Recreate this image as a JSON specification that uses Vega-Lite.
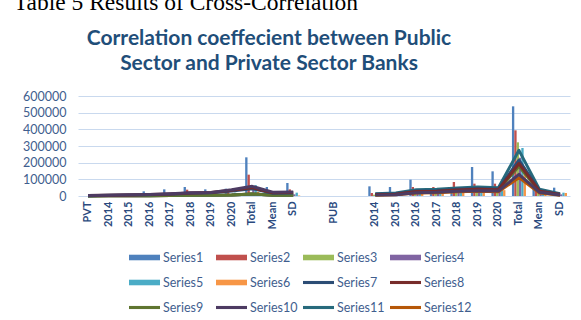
{
  "$schema": "https://vega.github.io/schema/vega-lite/v6.json",
  "width": 492,
  "height": 100,
  "autosize": {"type": "none"},
  "padding": {"left": 78, "top": 96, "right": 11, "bottom": 124},
  "background": "white",
  "config": {"view": {"stroke": null}, "font": "Lato"},
  "title": {
    "text": ["Correlation coeffecient between Public", "Sector and Private Sector Banks"],
    "font": "Lato", "fontSize": 21, "fontWeight": "bold", "color": "#1F4E79",
    "lineHeight": 25, "anchor": "middle", "frame": "group", "dx": -55, "dy": 104, "offset": 20
  },
  "data": {"values": [
    {"c": "PVT", "i": 0, "g": 1, "Series1": null, "Series2": null, "Series3": null, "Series4": null, "Series5": null, "Series6": null, "Series7": 2000, "Series8": 2500, "Series9": 500, "Series10": 3000, "Series11": 500, "Series12": 500},
    {"c": "2014", "i": 1, "g": 1, "Series1": 4000, "Series2": 3000, "Series3": 1000, "Series4": 1000, "Series5": 2000, "Series6": 1000, "Series7": 4000, "Series8": 4500, "Series9": 1000, "Series10": 5000, "Series11": 1000, "Series12": 1000},
    {"c": "2015", "i": 2, "g": 1, "Series1": 8000, "Series2": 5000, "Series3": 1500, "Series4": 1500, "Series5": 3000, "Series6": 2000, "Series7": 6000, "Series8": 6500, "Series9": 1500, "Series10": 7000, "Series11": 1500, "Series12": 1500},
    {"c": "2016", "i": 3, "g": 1, "Series1": 28000, "Series2": 8000, "Series3": 2000, "Series4": 2000, "Series5": 5000, "Series6": 3000, "Series7": 8000, "Series8": 8500, "Series9": 2000, "Series10": 9000, "Series11": 2000, "Series12": 2000},
    {"c": "2017", "i": 4, "g": 1, "Series1": 40000, "Series2": 18000, "Series3": 3000, "Series4": 3000, "Series5": 8000, "Series6": 4000, "Series7": 11000, "Series8": 12000, "Series9": 3000, "Series10": 13000, "Series11": 3000, "Series12": 3000},
    {"c": "2018", "i": 5, "g": 1, "Series1": 54000, "Series2": 38000, "Series3": 4000, "Series4": 5000, "Series5": 12000, "Series6": 5000, "Series7": 16000, "Series8": 18000, "Series9": 4000, "Series10": 19000, "Series11": 4000, "Series12": 4000},
    {"c": "2019", "i": 6, "g": 1, "Series1": 40000, "Series2": 25000, "Series3": 5000, "Series4": 6000, "Series5": 15000, "Series6": 6000, "Series7": 19000, "Series8": 21000, "Series9": 5000, "Series10": 21000, "Series11": 5000, "Series12": 5000},
    {"c": "2020", "i": 7, "g": 1, "Series1": 44000, "Series2": 40000, "Series3": 6000, "Series4": 8000, "Series5": 20000, "Series6": 8000, "Series7": 30000, "Series8": 34000, "Series9": 6000, "Series10": 38000, "Series11": 6000, "Series12": 6000},
    {"c": "Total", "i": 8, "g": 1, "Series1": 232000, "Series2": 128000, "Series3": 20000, "Series4": 40000, "Series5": 65000, "Series6": 25000, "Series7": 44000, "Series8": 50000, "Series9": 12000, "Series10": 58000, "Series11": 12000, "Series12": 12000},
    {"c": "Mean", "i": 9, "g": 1, "Series1": 54000, "Series2": 30000, "Series3": 6000, "Series4": 8000, "Series5": 15000, "Series6": 6000, "Series7": 16000, "Series8": 19000, "Series9": 4000, "Series10": 23000, "Series11": 4000, "Series12": 4000},
    {"c": "SD", "i": 10, "g": 1, "Series1": 78000, "Series2": 40000, "Series3": 8000, "Series4": 10000, "Series5": 20000, "Series6": 3000, "Series7": 18000, "Series8": 21000, "Series9": 5000, "Series10": 24000, "Series11": 5000, "Series12": 5000},
    {"c": "2014b", "i": 14, "g": 2, "Series1": 58000, "Series2": 18000, "Series3": 8000, "Series4": 5000, "Series5": 10000, "Series6": 8000, "Series7": 10000, "Series8": 9000, "Series9": 8000, "Series10": 6000, "Series11": 14000, "Series12": 5000},
    {"c": "2015b", "i": 15, "g": 2, "Series1": 54000, "Series2": 10000, "Series3": 8000, "Series4": 6000, "Series5": 12000, "Series6": 9000, "Series7": 13000, "Series8": 11000, "Series9": 10000, "Series10": 8000, "Series11": 18000, "Series12": 7000},
    {"c": "2016b", "i": 16, "g": 2, "Series1": 98000, "Series2": 54000, "Series3": 30000, "Series4": 20000, "Series5": 35000, "Series6": 30000, "Series7": 30000, "Series8": 27000, "Series9": 25000, "Series10": 20000, "Series11": 38000, "Series12": 18000},
    {"c": "2017b", "i": 17, "g": 2, "Series1": 30000, "Series2": 54000, "Series3": 30000, "Series4": 22000, "Series5": 35000, "Series6": 30000, "Series7": 32000, "Series8": 29000, "Series9": 27000, "Series10": 22000, "Series11": 40000, "Series12": 20000},
    {"c": "2018b", "i": 18, "g": 2, "Series1": 20000, "Series2": 84000, "Series3": 40000, "Series4": 30000, "Series5": 40000, "Series6": 35000, "Series7": 40000, "Series8": 36000, "Series9": 33000, "Series10": 28000, "Series11": 48000, "Series12": 25000},
    {"c": "2019b", "i": 19, "g": 2, "Series1": 174000, "Series2": 74000, "Series3": 45000, "Series4": 35000, "Series5": 50000, "Series6": 40000, "Series7": 45000, "Series8": 40000, "Series9": 38000, "Series10": 32000, "Series11": 54000, "Series12": 28000},
    {"c": "2020b", "i": 20, "g": 2, "Series1": 148000, "Series2": 74000, "Series3": 40000, "Series4": 30000, "Series5": 45000, "Series6": 35000, "Series7": 42000, "Series8": 38000, "Series9": 35000, "Series10": 30000, "Series11": 50000, "Series12": 26000},
    {"c": "Totalb", "i": 21, "g": 2, "Series1": 538000, "Series2": 394000, "Series3": 322000, "Series4": 230000, "Series5": 288000, "Series6": 160000, "Series7": 215000, "Series8": 195000, "Series9": 178000, "Series10": 130000, "Series11": 274000, "Series12": 110000},
    {"c": "Meanb", "i": 22, "g": 2, "Series1": 46000, "Series2": 30000, "Series3": 25000, "Series4": 20000, "Series5": 40000, "Series6": 30000, "Series7": 32000, "Series8": 29000, "Series9": 27000, "Series10": 22000, "Series11": 40000, "Series12": 18000},
    {"c": "SDb", "i": 23, "g": 2, "Series1": 50000, "Series2": 20000, "Series3": 15000, "Series4": 10000, "Series5": 20000, "Series6": 18000, "Series7": 10000, "Series8": 9000, "Series9": 8000, "Series10": 6000, "Series11": 14000, "Series12": 5000}
  ]},
  "transform": [
    {"fold": ["Series1", "Series2", "Series3", "Series4", "Series5", "Series6", "Series12", "Series11", "Series9", "Series7", "Series8", "Series10"], "as": ["s", "v"]}
  ],
  "encoding": {
    "x": {
      "field": "c", "type": "nominal",
      "scale": {
        "domain": ["PVT", "2014", "2015", "2016", "2017", "2018", "2019", "2020", "Total", "Mean", "SD", "b1", "PUB", "b2", "2014b", "2015b", "2016b", "2017b", "2018b", "2019b", "2020b", "Totalb", "Meanb", "SDb"],
        "paddingInner": 0.317, "paddingOuter": 0.146
      },
      "axis": {
        "title": null, "labelAngle": 270, "labelPadding": 5, "ticks": false, "domain": false,
        "labelFont": "Lato", "labelFontSize": 11, "labelFontWeight": "bold", "labelColor": "#2B4A7E",
        "labelOverlap": false,
        "labelExpr": "indexof(['b1','b2'], datum.value) >= 0 ? '' : replace(datum.value, 'b', '')"
      }
    },
    "y": {
      "field": "v", "type": "quantitative",
      "scale": {"domain": [0, 600000], "nice": false},
      "axis": {
        "values": [0, 100000, 200000, 300000, 400000, 500000, 600000],
        "format": "d", "grid": true, "gridColor": "#C9D9EE", "gridWidth": 1,
        "domain": false, "ticks": false, "labelPadding": 12,
        "labelFont": "Lato", "labelFontSize": 12.5, "labelColor": "#3F5E8E",
        "title": "Table 5 Results of Cross-Correlation",
        "titleFont": "Liberation Serif", "titleFontSize": 23.5, "titleFontWeight": "normal", "titleColor": "#000000",
        "titleAngle": 0, "titleAlign": "left", "titleBaseline": "alphabetic", "titleX": -64.7, "titleY": -87
      }
    },
    "color": {
      "field": "s", "type": "nominal",
      "scale": {
        "domain": ["Series1", "Series2", "Series3", "Series4", "Series5", "Series6", "Series7", "Series8", "Series9", "Series10", "Series11", "Series12"],
        "range": ["#4F81BD", "#C0504D", "#9BBB59", "#8064A2", "#4BACC6", "#F79646", "#2C4D75", "#772C2A", "#5F7530", "#4D3B62", "#276A7C", "#B65708"]
      },
      "legend": {
        "title": null, "orient": "none", "legendX": 51, "legendY": 146, "direction": "horizontal", "columns": 4,
        "gridAlign": "all", "columnPadding": 5, "rowPadding": 3,
        "symbolType": "M-1,-0.18H1V0.18H-1Z", "symbolSize": 961,
        "labelFont": "Lato", "labelFontSize": 12.5, "labelColor": "#3F5E8E", "labelOffset": 3,
        "encode": {
          "symbols": {
            "update": {
              "shape": {"signal": "indexof(['Series1','Series2','Series3','Series4','Series5','Series6'], datum.value) >= 0 ? 'M-1,-0.18H1V0.18H-1Z' : 'M-1,-0.1H1V0.1H-1Z'"},
              "fill": {"signal": "scale('color', datum.value)"},
              "stroke": {"value": "transparent"},
              "strokeWidth": {"value": 0},
              "opacity": {"value": 1}
            }
          }
        }
      }
    }
  },
  "layer": [
    {
      "transform": [{"filter": {"field": "s", "oneOf": ["Series1", "Series2", "Series3", "Series4", "Series5", "Series6"]}}],
      "mark": {"type": "bar"},
      "encoding": {
        "xOffset": {"field": "s", "type": "nominal", "scale": {"domain": ["Series1", "Series2", "Series3", "Series4", "Series5", "Series6"], "paddingInner": 0, "paddingOuter": 0}}
      }
    },
    {
      "transform": [{"filter": {"field": "s", "oneOf": ["Series7", "Series8", "Series9", "Series10", "Series11", "Series12"]}}],
      "mark": {"type": "line", "strokeWidth": 3, "strokeJoin": "round"},
      "encoding": {
        "detail": {"field": "g", "type": "nominal"},
        "order": {"field": "i", "type": "quantitative"}
      }
    }
  ]
}
